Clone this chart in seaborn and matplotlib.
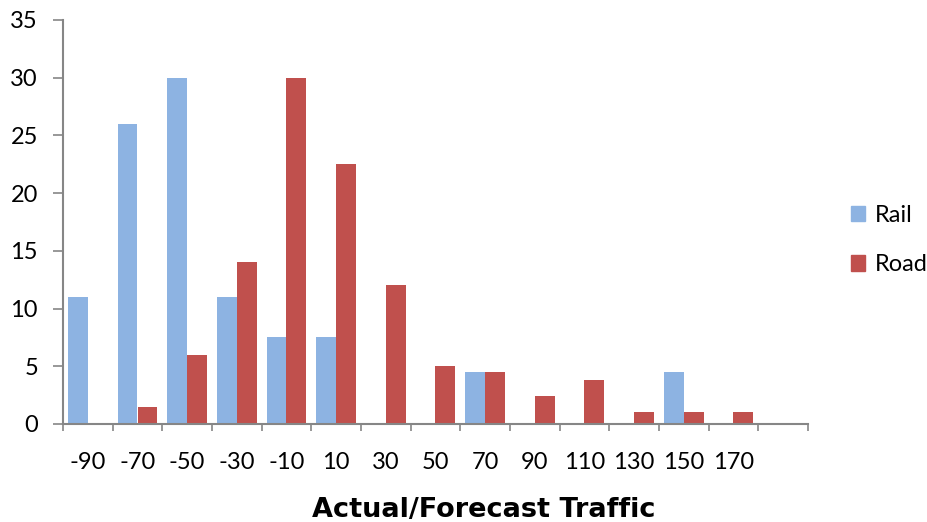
import numpy as np
import pandas as pd
import seaborn as sns
import matplotlib.pyplot as plt
from matplotlib.patches import Patch

sns.set_style("white")
plt.rcParams["font.family"] = ["Lato", "DejaVu Sans"]
plt.rcParams["text.color"] = "black"
plt.rcParams["axes.labelcolor"] = "black"
plt.rcParams["xtick.labelcolor"] = "black"
plt.rcParams["ytick.labelcolor"] = "black"

categories = ["-90", "-70", "-50", "-30", "-10", "10", "30", "50", "70",
              "90", "110", "130", "150", "170", ""]
rail = [11, 26, 30, 11, 7.5, 7.5, 0, 0, 4.5, 0, 0, 0, 4.5, 0, 0]
road = [0, 1.5, 6, 14, 30, 22.5, 12, 5, 4.5, 2.4, 3.8, 1, 1, 1, 0]

RAIL_COLOR = "#8db3e2"
ROAD_COLOR = "#c0504d"
AXIS_COLOR = "#868686"

df = pd.DataFrame({
    "bin": categories * 2,
    "value": rail + road,
    "mode": ["Rail"] * len(rail) + ["Road"] * len(road),
})

fig = plt.figure(figsize=(9.28, 5.22), dpi=100)
ax = fig.add_axes([63 / 928, 1 - 424 / 522, 745 / 928, 404 / 522])

sns.barplot(data=df, x="bin", y="value", hue="mode", order=categories,
            hue_order=["Rail", "Road"], palette=[RAIL_COLOR, ROAD_COLOR],
            saturation=1, width=0.8, linewidth=0, errorbar=None,
            legend=False, ax=ax)

n = len(categories)
ax.set_xlim(-0.5, n - 0.5)
ax.set_ylim(0, 35)
ax.set_yticks(np.arange(0, 36, 5))
ax.tick_params(axis="y", labelsize=17, length=7, width=1.2,
               color=AXIS_COLOR, direction="out", pad=11, left=True)

# category boundaries carry the tick marks, labels sit at slot centres
ax.set_xticks(np.arange(-0.5, n, 1))
ax.set_xticklabels([])
ax.set_xticks(np.arange(n), labels=categories, minor=True)
ax.tick_params(axis="x", which="major", length=5, width=1.2,
               color=AXIS_COLOR, direction="out", bottom=True)
ax.tick_params(axis="x", which="minor", length=0, labelsize=17, pad=20)

ax.set_xlabel("Actual/Forecast Traffic", family="DejaVu Sans",
              fontweight="bold", fontsize=19.5, color="black")
ax.xaxis.set_label_coords((484 - 63) / 745, -0.212)
ax.xaxis.label.set_verticalalignment("center")
ax.set_ylabel("")

for side in ["top", "right"]:
    ax.spines[side].set_visible(False)
for side in ["left", "bottom"]:
    ax.spines[side].set_color(AXIS_COLOR)
    ax.spines[side].set_linewidth(1.5)

handles = [Patch(color=RAIL_COLOR, label="Rail"),
           Patch(color=ROAD_COLOR, label="Road")]
fig.legend(handles=handles, loc="center left",
           bbox_to_anchor=(846 / 928, 1 - 240 / 522), frameon=False,
           fontsize=17, handlelength=0.62, handleheight=0.62,
           handletextpad=0.4, labelspacing=1.2, borderaxespad=0,
           borderpad=0.2)

fig.savefig("out.png", dpi=100)
